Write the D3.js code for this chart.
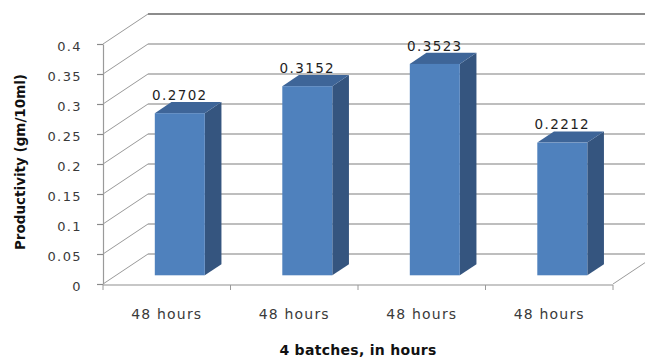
<!DOCTYPE html>
<html>
<head>
<meta charset="utf-8">
<script src="https://cdn.jsdelivr.net/npm/d3@7"></script>
<style>
  html, body { margin: 0; padding: 0; background: #fff; }
  svg { display: block; font-family: "DejaVu Sans", sans-serif; }
</style>
</head>
<body>
<svg id="chart" width="645" height="358"></svg>
<script>
// Productivity of four 48-hour batches
const categories = ["48 hours", "48 hours ", "48 hours  ", "48 hours   "];
const categoryLabels = ["48 hours", "48 hours", "48 hours", "48 hours"];
const values = [0.2702, 0.3152, 0.3523, 0.2212];
const valueLabels = ["0.2702", "0.3152", "0.3523", "0.2212"];
const yTicks = [0, 0.05, 0.1, 0.15, 0.2, 0.25, 0.3, 0.35, 0.4];
const yTickLabels = ["0", "0.05", "0.1", "0.15", "0.2", "0.25", "0.3", "0.35", "0.4"];

const svg = d3.select("#chart");
const W = 645, H = 358;

// front plane scales
const x = d3.scaleBand().domain(categories).range([103, 613]).padding(0);
const y = d3.scaleLinear().domain([0, 0.4]).range([284, 44]);

// oblique depth vector of the 3-D box
const DX = 45, DY = -30;
const P = (px, py, d) => [px + d * DX, py + d * DY];

const clip = svg.append("defs").append("clipPath").attr("id", "clipAll")
  .append("rect").attr("x", 0).attr("y", 0).attr("width", W).attr("height", H);

const walls = svg.append("g").attr("clip-path", "url(#clipAll)");
const x0 = x.range()[0], x1 = x.range()[1];

// back wall gridlines
walls.selectAll("line.grid").data(yTicks).join("line")
  .attr("class", "grid")
  .attr("x1", d => P(x0, y(d), 1)[0]).attr("y1", d => P(x0, y(d), 1)[1])
  .attr("x2", d => P(x1, y(d), 1)[0]).attr("y2", d => P(x1, y(d), 1)[1])
  .attr("stroke", (d, i) => i === yTicks.length - 1 ? "#8c8c8c" : "#a8a8a8")
  .attr("stroke-width", (d, i) => i === yTicks.length - 1 ? 2 : 1.5);

// side wall diagonals
walls.selectAll("line.diag").data(yTicks).join("line")
  .attr("class", "diag")
  .attr("x1", x0).attr("y1", d => y(d))
  .attr("x2", d => P(x0, y(d), 1)[0]).attr("y2", d => P(x0, y(d), 1)[1])
  .attr("stroke", "#9a9a9a").attr("stroke-width", 1);

// floor right edge
walls.append("line")
  .attr("x1", x1).attr("y1", y(0))
  .attr("x2", P(x1, y(0), 1)[0]).attr("y2", P(x1, y(0), 1)[1])
  .attr("stroke", "#9a9a9a").attr("stroke-width", 1);

// floor front edge
walls.append("line")
  .attr("x1", x0).attr("y1", y(0) + 1).attr("x2", x1).attr("y2", y(0) + 1)
  .attr("stroke", "#b4b4b4").attr("stroke-width", 1.5);

// category boundary ticks
walls.selectAll("line.xtick").data(d3.range(categories.length + 1)).join("line")
  .attr("class", "xtick")
  .attr("x1", i => x0 + i * x.bandwidth()).attr("x2", i => x0 + i * x.bandwidth())
  .attr("y1", y(0) + 1).attr("y2", y(0) + 6)
  .attr("stroke", "#9a9a9a").attr("stroke-width", 1);

// y axis
const yAxis = d3.axisLeft(y).tickValues(yTicks).tickSize(6).tickSizeOuter(0)
  .tickFormat((d, i) => yTickLabels[i]);
const gy = svg.append("g").attr("transform", `translate(${x0},0)`).call(yAxis);
gy.select(".domain").attr("stroke", "#9a9a9a").attr("stroke-width", 1.2);
gy.selectAll(".tick line").attr("stroke", "#8a8a8a").attr("stroke-width", 1.2);
gy.selectAll(".tick text")
  .attr("x", -21).attr("dy", "0.5em")
  .attr("font-size", 13).attr("fill", "#3a3a3a")
  .attr("font-family", "DejaVu Sans").style("letter-spacing", "1.4px");

// bars (front face, side face, top face)
const F1 = 0.29, F2 = 0.66, BW = 50;
const bars = svg.append("g");
categories.forEach((c, i) => {
  const cx = x(c) + x.bandwidth() / 2;
  const v = values[i];
  const [fxL, fyTop] = P(cx - BW / 2, y(v), F1);
  const [fxR] = P(cx + BW / 2, y(v), F1);
  const fyBot = P(cx, y(0), F1)[1];
  const [bxR, byTop] = P(cx + BW / 2, y(v), F2);
  const [bxL] = P(cx - BW / 2, y(v), F2);
  const byBot = P(cx, y(0), F2)[1];
  // side
  bars.append("path")
    .attr("d", `M${fxR},${fyTop}L${bxR},${byTop}L${bxR},${byBot}L${fxR},${fyBot}Z`)
    .attr("fill", "#35557f");
  // top
  bars.append("path")
    .attr("d", `M${fxL},${fyTop}L${bxL},${byTop}L${bxR},${byTop}L${fxR},${fyTop}Z`)
    .attr("fill", "#3e6598");
  // front
  bars.append("rect")
    .attr("x", fxL).attr("y", fyTop).attr("width", fxR - fxL).attr("height", fyBot - fyTop)
    .attr("fill", "#4f81bd");
  // value label
  bars.append("text")
    .attr("x", (fxL + fxR) / 2).attr("y", byTop - 2)
    .attr("text-anchor", "middle")
    .attr("font-size", 13.5).attr("fill", "#1e1e1e")
    .style("letter-spacing", "1.4px")
    .text(valueLabels[i]);
});

// category labels
const xAxis = d3.axisBottom(x).tickSize(0).tickSizeOuter(0)
  .tickFormat((d, i) => categoryLabels[i]);
const gx = svg.append("g").attr("transform", `translate(0,${y(0)})`).call(xAxis);
gx.select(".domain").remove();
gx.selectAll(".tick text")
  .attr("y", 35).attr("dy", 0)
  .attr("font-size", 14).attr("fill", "#3a3a3a")
  .attr("font-family", "DejaVu Sans").style("letter-spacing", "1.2px");

// axis titles
svg.append("text")
  .attr("x", (x0 + x1) / 2).attr("y", 355)
  .attr("text-anchor", "middle")
  .attr("font-size", 14).attr("font-weight", "bold").attr("fill", "#111")
  .style("letter-spacing", "0.3px")
  .text("4 batches, in hours");

svg.append("text")
  .attr("transform", "translate(25,162) rotate(-90)")
  .attr("text-anchor", "middle")
  .attr("font-size", 13.5).attr("font-weight", "bold").attr("fill", "#111")
  .text("Productivity (gm/10ml)");
</script>
</body>
</html>
